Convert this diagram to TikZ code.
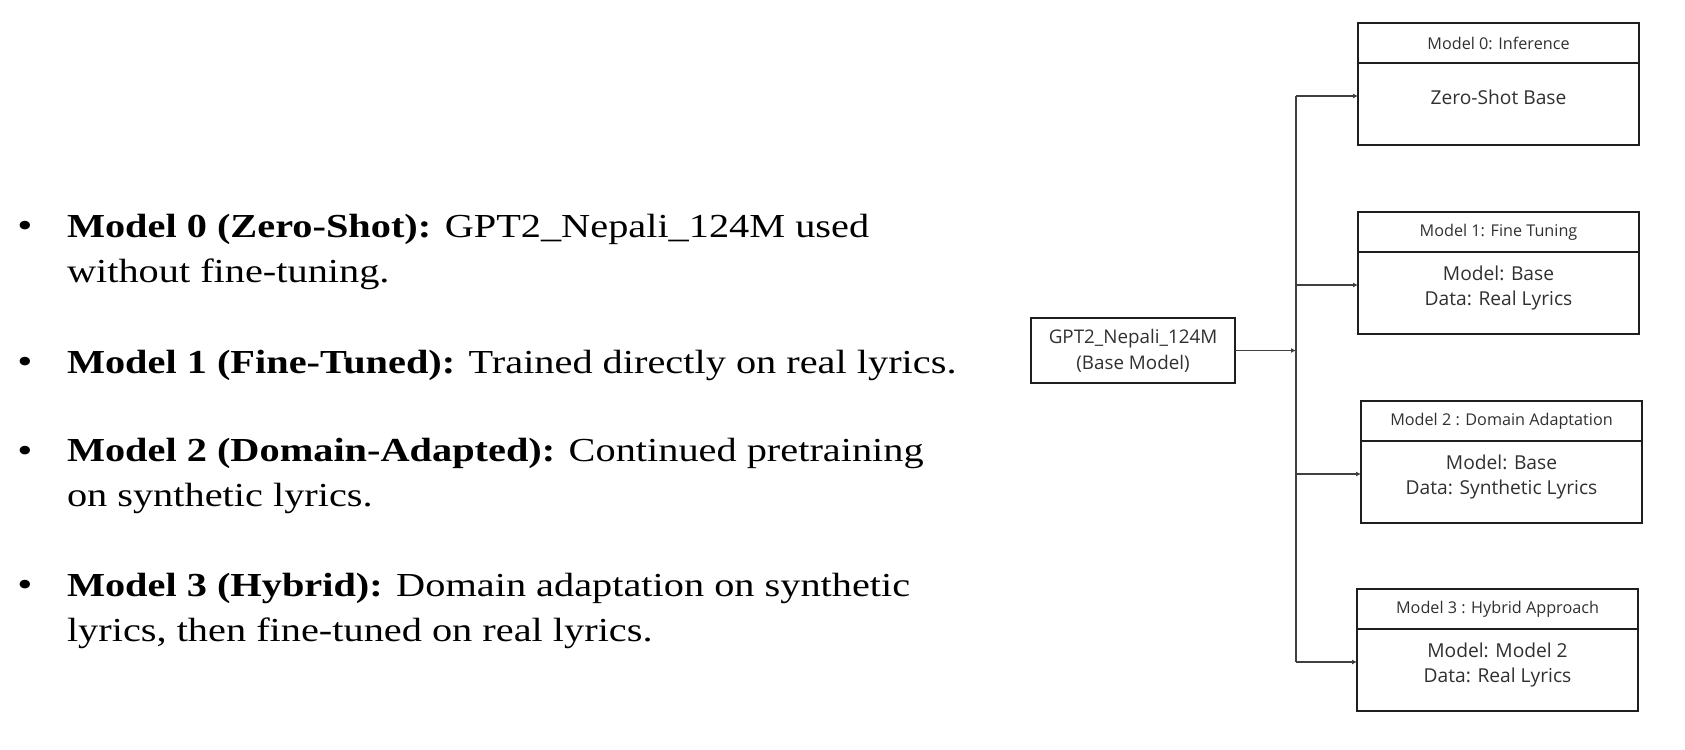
\documentclass[tikz,border=0pt]{standalone}
\usepackage{fontspec}
\usepackage{tikz}
\usetikzlibrary{positioning, arrows.meta}
\newfontfamily\plexsans{Open Sans}
\newfontfamily\bookserif{Liberation Serif}[FakeStretch=1.2]
\definecolor{boxline}{HTML}{1E1E1E}
\definecolor{wirecol}{HTML}{404040}
\definecolor{txt}{HTML}{303030}

\begin{document}
\begin{tikzpicture}[x=0.5pt,y=0.5pt]
\tikzstyle{every node}+=[inner sep=0pt, outer sep=0pt]
\tikzstyle{item}=[anchor=base west, align=left, font=\bookserif\fontsize{16.8}{22.3}\selectfont]
\tikzstyle{dot}=[anchor=base, font=\bookserif\fontsize{18}{22.3}\selectfont]
\tikzstyle{basebox}=[draw=boxline, line width=1.1pt, minimum width=102pt, minimum height=32.5pt, align=center, text=txt, font=\plexsans\fontsize{9.4}{13}\selectfont]
\tikzstyle{headbox}=[draw=boxline, line width=1.1pt, minimum width=140.5pt, minimum height=20pt, text=txt, font=\plexsans\fontsize{8.1}{9.5}\selectfont]
\tikzstyle{bodybox}=[draw=boxline, line width=1.1pt, minimum width=140.5pt, align=center, text height=26.75pt, text depth=14.25pt, text=txt, font=\plexsans\fontsize{9.6}{12.5}\selectfont]
\tikzstyle{wire}=[draw=wirecol, line width=0.8pt]
\tikzstyle{conn}=[wire, -{Latex[length=2.5pt,width=2.5pt]}]
\useasboundingbox (0,0) rectangle (1685,-749);

% bullet list on the left (base = last line)
\node[dot] (dot0) at (25,-237) {\textbullet};
\node[item] (item0) at (67,-282) {\textbf{Model 0 (Zero-Shot):} GPT2\_Nepali\_124M used\\without fine-tuning.};
\node[dot] (dot1) at (25,-373) {\textbullet};
\node[item] (item1) at (67,-373) {\textbf{Model 1 (Fine-Tuned):} Trained directly on real lyrics.};
\node[dot] (dot2) at (25,-462) {\textbullet};
\node[item] (item2) at (67,-506) {\textbf{Model 2 (Domain-Adapted):} Continued pretraining\\on synthetic lyrics.};
\node[dot] (dot3) at (25,-596) {\textbullet};
\node[item] (item3) at (67,-641) {\textbf{Model 3 (Hybrid):} Domain adaptation on synthetic\\lyrics, then fine-tuned on real lyrics.};

% base model and the four variants
\node[basebox] (base) at (1133,-350.5) {GPT2\_Nepali\_124M\\(Base Model)};
\node[headbox] (head0) at (1498.5,-43) {Model 0: Inference};
\node[bodybox, below=0pt of head0, text height=20.75pt, text depth=20.25pt] (body0) {Zero-Shot Base};
\node[headbox] (head1) at (1498.5,-232) {Model 1: Fine Tuning};
\node[bodybox, below=0pt of head1] (body1) {Model: Base\\Data: Real Lyrics};
\node[headbox] (head2) at (1501.5,-421) {Model 2 : Domain Adaptation};
\node[bodybox, below=0pt of head2] (body2) {Model: Base\\Data: Synthetic Lyrics};
\node[headbox] (head3) at (1497.5,-609) {Model 3 : Hybrid Approach};
\node[bodybox, below=0pt of head3] (body3) {Model: Model 2\\Data: Real Lyrics};

% connectors
\coordinate (split) at (1296,-350.5);
\foreach \i in {0,...,3}
  \coordinate (in\i) at ([yshift=4pt]body\i.west);
\draw[conn] (base) -- (split);
\draw[wire] (split |- in0) -- (split |- in3);
\foreach \i in {0,...,3}
  \draw[conn] (split |- in\i) -- (in\i);
\end{tikzpicture}
\end{document}
